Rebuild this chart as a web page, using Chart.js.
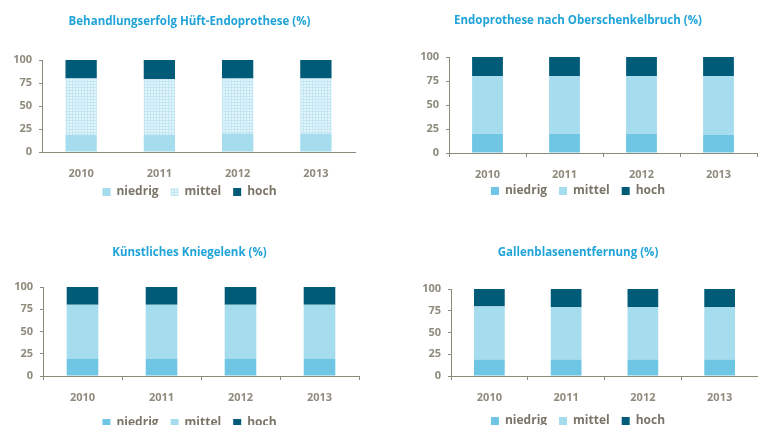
<!DOCTYPE html>
<html lang="de">
<head>
<meta charset="utf-8">
<title>Behandlungsergebnisse 2010–2013</title>
<script src="https://cdn.jsdelivr.net/npm/chart.js@4.4.1/dist/chart.umd.min.js"></script>
<style>
  html, body { margin: 0; padding: 0; background: #fff; overflow: hidden; }
  body { width: 758px; height: 425px; position: relative; }
  canvas { position: absolute; }
</style>
</head>
<body>
<canvas id="HueftChart" width="379" style="left:0;top:0"></canvas>
<canvas id="FemurChart" width="380" style="left:388px;top:0"></canvas>
<canvas id="KnieChart" width="379" style="left:0;top:230px"></canvas>
<canvas id="GalleChart" width="380" style="left:388px;top:230px"></canvas>

<script>
// ---------------- Daten ----------------
const jahre = ['2010', '2011', '2012', '2013'];
const stufen = ['niedrig', 'mittel', 'hoch'];
const yTicks = [0, 25, 50, 75, 100];

// Behandlungsergebnis in Prozent je Jahr
const hueftNiedrig = [19, 19, 20, 20];
const hueftMittel  = [61, 60, 60, 60];
const hueftHoch    = [20, 21, 20, 20];

const femurNiedrig = [20, 20, 20, 19];
const femurMittel  = [60, 60, 60, 61];
const femurHoch    = [20, 20, 20, 20];

const knieNiedrig  = [19, 19, 19, 19];
const knieMittel   = [61, 61, 61, 61];
const knieHoch     = [20, 20, 20, 20];

const galleNiedrig = [19, 19, 19, 19];
const galleMittel  = [61, 60, 60, 60];
const galleHoch    = [20, 21, 21, 21];

// ---------------- Farben ----------------
const BLAU_MITTEL = '#6ec6e4';
const BLAU_HELL   = '#a5dcee';
const PETROL      = '#005b78';
const TITEL_FARBE = '#1fa3d8';
const ACHSE       = '#8c8a78';
const SCHRIFT     = '#8e8a7c';
const LEGENDE     = '#7a7568';

Chart.defaults.font.family = '"Open Sans"';
Chart.defaults.font.weight = 'bold';
Chart.defaults.animation = false;

// Höhen der Layout-Blöcke (px)
const TITEL_GROESSE = 11.5;
const TITEL_ZEILE = TITEL_GROESSE * 1.2;
const X_ACHSE_HOEHE = 30;
const LEGENDE_ABSTAND = 12;
const LEGENDE_HOEHE = 12 + LEGENDE_ABSTAND + 10;

// Legende dichter an die Jahreszahlen rücken
// (die x-Achse braucht ihre volle Höhe, sonst werden die Beschriftungen abgeschnitten)
const legendeAnheben = {
    id: 'legendeAnheben',
    afterLayout(chart, args, opts) {
        chart.legend.top -= opts.um;
        chart.legend.bottom -= opts.um;
    }
};

// Rastermuster (helles Gitter) für "mittel" im ersten Diagramm
function gitterMuster(ctx) {
    const kachel = document.createElement('canvas');
    kachel.width = 3;
    kachel.height = 3;
    const g = kachel.getContext('2d');
    g.fillStyle = '#e3f4fa';
    g.fillRect(0, 0, 3, 3);
    g.fillStyle = '#c2e6f3';
    g.fillRect(0, 0, 3, 1);
    g.fillRect(0, 0, 1, 3);
    return ctx.createPattern(kachel, 'repeat');
}

// lage: Titelmitte, Plot oben/unten, Breite der y-Achse, Freiraum rechts, Mitte der Legende
function initChart(id, titel, werte, farben, lage) {
    const canvas = document.getElementById(id);
    canvas.height = lage.plotUnten + X_ACHSE_HOEHE + LEGENDE_HOEHE;
    const ctx = canvas.getContext('2d');
    const padOben = lage.titelMitte - TITEL_ZEILE / 2;
    const legendeMitteNatur = lage.plotUnten + X_ACHSE_HOEHE + LEGENDE_ABSTAND + 6;

    return new Chart(ctx, {
        type: 'bar',
        data: {
            labels: jahre,
            datasets: stufen.map((name, i) => ({
                label: name,
                data: werte[i],
                backgroundColor: farben[i],
                borderWidth: 0,
                categoryPercentage: 1,
                barPercentage: 0.4
            }))
        },
        plugins: [legendeAnheben],
        options: {
            responsive: false,
            layout: { padding: 0 },
            plugins: {
                title: {
                    display: true,
                    text: titel,
                    color: TITEL_FARBE,
                    font: { size: TITEL_GROESSE, weight: 'bold' },
                    padding: { top: padOben, bottom: lage.plotOben - padOben - TITEL_ZEILE }
                },
                legend: {
                    position: 'bottom',
                    labels: {
                        color: LEGENDE,
                        font: { size: 12, weight: 'bold' },
                        boxWidth: 8,
                        boxHeight: 8,
                        padding: LEGENDE_ABSTAND
                    }
                },
                legendeAnheben: { um: legendeMitteNatur - lage.legendeMitte },
                tooltip: { enabled: false }
            },
            scales: {
                x: {
                    stacked: true,
                    grid: {
                        drawOnChartArea: false,
                        drawTicks: true,
                        tickLength: 4,
                        color: lage.xStriche ? ACHSE : 'transparent'
                    },
                    border: { color: ACHSE, width: 1 },
                    ticks: { color: SCHRIFT, font: { size: 11 }, padding: 11 },
                    afterFit: (scale) => { scale.height = X_ACHSE_HOEHE; }
                },
                y: {
                    stacked: true,
                    min: yTicks[0],
                    max: yTicks[yTicks.length - 1],
                    grid: { drawOnChartArea: false, drawTicks: true, tickLength: 3, color: ACHSE },
                    border: { color: ACHSE, width: 1 },
                    ticks: { color: SCHRIFT, font: { size: 11 }, padding: 7, stepSize: yTicks[1] - yTicks[0] },
                    afterFit: (scale) => { scale.width = lage.achseLinks; }
                },
                // leere Achse rechts: hält Platz frei, damit Titel und Legende mittig bleiben
                rand: {
                    position: 'right',
                    grid: { display: false },
                    border: { display: false },
                    ticks: { display: false },
                    afterFit: (scale) => { scale.width = lage.rechts; }
                }
            }
        }
    });
}

window.addEventListener('load', onload);

function onload(event) {
    const hueftCtx = document.getElementById('HueftChart').getContext('2d');

    initChart('HueftChart', 'Behandlungserfolg Hüft-Endoprothese (%)',
        [hueftNiedrig, hueftMittel, hueftHoch],
        [BLAU_HELL, gitterMuster(hueftCtx), PETROL],
        { titelMitte: 21.5, plotOben: 60, plotUnten: 152, achseLinks: 42, rechts: 24, legendeMitte: 192, xStriche: false });

    initChart('FemurChart', 'Endoprothese nach Oberschenkelbruch (%)',
        [femurNiedrig, femurMittel, femurHoch],
        [BLAU_MITTEL, BLAU_HELL, PETROL],
        { titelMitte: 20.5, plotOben: 57, plotUnten: 153, achseLinks: 61, rechts: 11, legendeMitte: 191, xStriche: true });

    initChart('KnieChart', 'Künstliches Kniegelenk (%)',
        [knieNiedrig, knieMittel, knieHoch],
        [BLAU_MITTEL, BLAU_HELL, PETROL],
        { titelMitte: 22.5, plotOben: 57, plotUnten: 146, achseLinks: 43, rechts: 20, legendeMitte: 193, xStriche: true });

    initChart('GalleChart', 'Gallenblasenentfernung (%)',
        [galleNiedrig, galleMittel, galleHoch],
        [BLAU_MITTEL, BLAU_HELL, PETROL],
        { titelMitte: 22.5, plotOben: 59, plotUnten: 146, achseLinks: 63, rechts: 10, legendeMitte: 191, xStriche: true });
}
</script>
</body>
</html>
